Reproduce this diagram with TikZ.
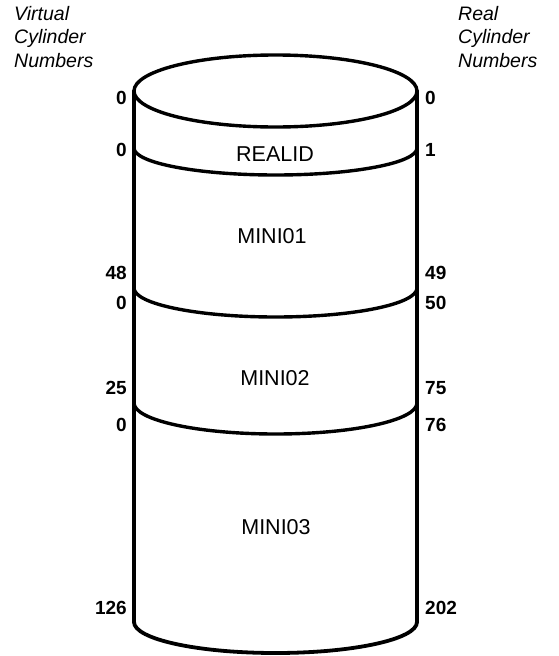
\documentclass[tikz,border=0pt]{standalone}
\usepackage{fontspec}
\setmainfont{Liberation Sans}
\usetikzlibrary{positioning}

\begin{document}
\begin{tikzpicture}[x=1pt, y=1pt,
        wall/.style={line width=3.8pt, line cap=round},
        rim/.style={line width=3.4pt},
        part/.style={font=\fontsize{21.5}{24}\selectfont},
        num/.style={font=\fontsize{19}{22}\selectfont\bfseries, inner sep=0pt},
        head/.style={font=\fontsize{19.5}{23.5}\selectfont\itshape, align=left, inner sep=0pt}
    ]
        \useasboundingbox (0,0) rectangle (558,-656);

        % column headings
        \node[head, anchor=north west] (vhead) at (14,-6)  {Virtual\\Cylinder\\Numbers};
        \node[head, anchor=north west] (rhead) at (458,-6) {Real\\Cylinder\\Numbers};

        % cylinder outline
        \coordinate (top) at (275.5,-91);
        \coordinate (tl) at (134,-91);
        \coordinate (tr) at (417,-91);
        \coordinate (bl) at (134,-622);
        \coordinate (br) at (417,-622);
        \coordinate (s1) at (134,-148);
        \coordinate (s2) at (134,-288);
        \coordinate (s3) at (134,-403);

        \draw[rim] (top) ellipse [x radius=141.5, y radius=36];
        \draw[wall] (tl) -- (bl);
        \draw[wall] (tr) -- (br);

        % minidisk boundaries
        \draw[rim] (s1) arc [start angle=180, end angle=360, x radius=141.5, y radius=27];
        \draw[rim] (s2) arc [start angle=180, end angle=360, x radius=141.5, y radius=29];
        \draw[rim] (s3) arc [start angle=180, end angle=360, x radius=141.5, y radius=31];
        \draw[wall] (bl) arc [start angle=180, end angle=360, x radius=141.5, y radius=31];

        % minidisk names
        \node[part] (realid) at (275,-154) {REALID};
        \node[part] (mini1)  at (272,-236) {MINI01};
        \node[part] (mini2)  at (275,-378) {MINI02};
        \node[part] (mini3)  at (276,-527) {MINI03};

        % virtual cylinder numbers
        \node[num, anchor=east] (v0) at (127,-98)  {0};
        \node[num, anchor=east] (v1) at (127,-150) {0};
        \node[num, anchor=east] (v2) at (127,-273) {48};
        \node[num, anchor=east] (v3) at (127,-303) {0};
        \node[num, anchor=east] (v4) at (127,-388) {25};
        \node[num, anchor=east] (v5) at (127,-425) {0};
        \node[num, anchor=east] (v6) at (127,-608) {126};

        % real cylinder numbers
        \node[num, anchor=west] (r0) at (425,-98)  {0};
        \node[num, anchor=west] (r1) at (425,-150) {1};
        \node[num, anchor=west] (r2) at (425,-273) {49};
        \node[num, anchor=west] (r3) at (425,-303) {50};
        \node[num, anchor=west] (r4) at (425,-388) {75};
        \node[num, anchor=west] (r5) at (425,-425) {76};
        \node[num, anchor=west] (r6) at (425,-608) {202};
\end{tikzpicture}
\end{document}
